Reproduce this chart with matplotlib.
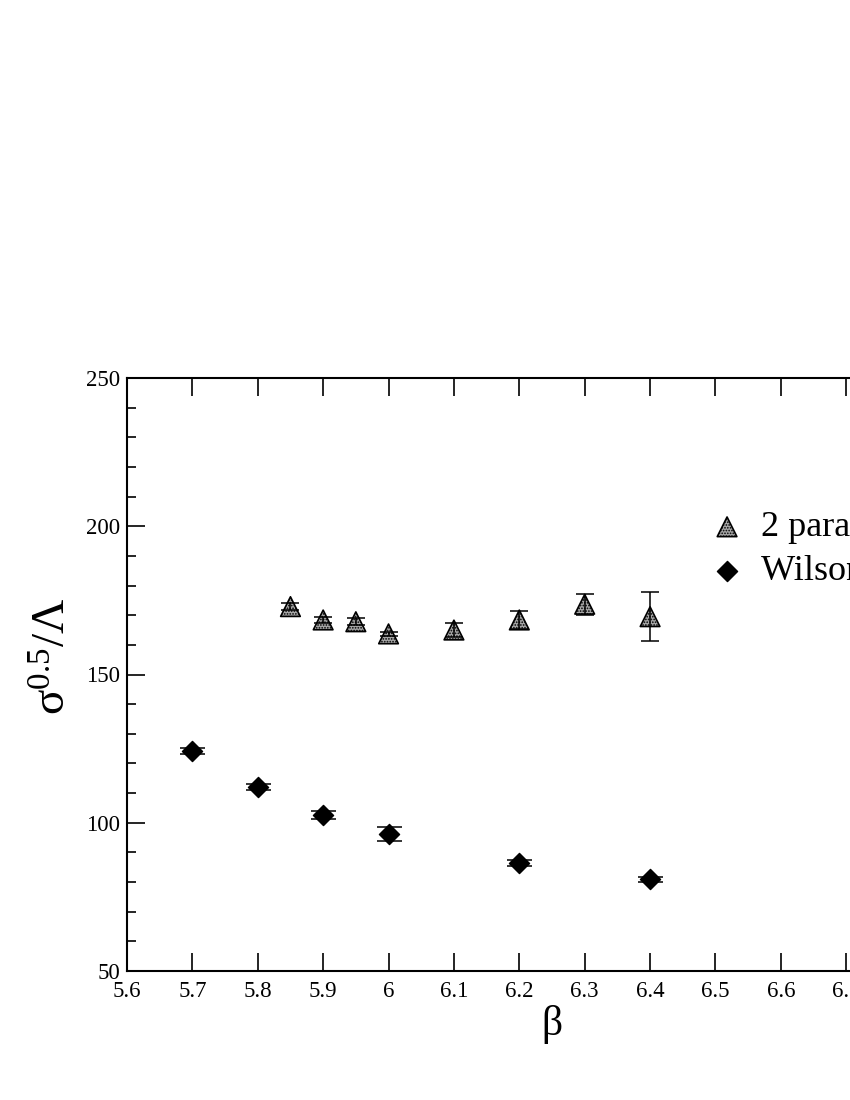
import numpy as np
import matplotlib.pyplot as plt
from matplotlib.ticker import MultipleLocator

plt.rcParams['font.family'] = ['Liberation Serif', 'DejaVu Serif']
plt.rcParams['mathtext.fontset'] = 'custom'
plt.rcParams['mathtext.rm'] = 'Liberation Serif'
plt.rcParams['mathtext.it'] = 'Liberation Serif:italic'
plt.rcParams['hatch.linewidth'] = 0.8

# data
beta_fit = [5.85, 5.9, 5.95, 6.0, 6.1, 6.2, 6.3, 6.4]
val_fit = [172.9, 168.4, 167.8, 163.7, 165.0, 168.4, 173.7, 169.5]
err_fit = [1.2, 1.1, 1.2, 0.8, 2.4, 3.0, 3.5, 8.3]

beta_wil = [5.7, 5.8, 5.9, 6.0, 6.2, 6.4]
val_wil = [124.3, 112.2, 102.6, 96.2, 86.3, 80.9]
err_wil = [1.0, 1.0, 1.4, 2.4, 1.0, 0.8]

labels = ['2 parameter fit', 'Wilson loops']
xticks = [5.6, 5.7, 5.8, 5.9, 6.0, 6.1, 6.2, 6.3, 6.4, 6.5, 6.6, 6.7, 6.8]
xticklabels = ['5.6', '5.7', '5.8', '5.9', '6', '6.1', '6.2', '6.3',
               '6.4', '6.5', '6.6', '6.7', '6.8']

fig = plt.figure(figsize=(8.5, 11), dpi=100)
# axes run past the right edge, like in the original
ax = fig.add_axes([127/850, 1 - 971/1100, 850/850, (971-378)/1100])

ax.errorbar(beta_fit, val_fit, yerr=err_fit, fmt='none', ecolor='black',
            elinewidth=1.1, capsize=6.3, capthick=1.1, zorder=4)
ax.scatter(beta_fit, val_fit, marker='^', s=200, facecolor='#a6a6a6',
           edgecolor='black', linewidth=1.2, hatch='......', zorder=3,
           label=labels[0])

ax.errorbar(beta_wil, val_wil, yerr=err_wil, fmt='none', ecolor='black',
            elinewidth=1.1, capsize=9, capthick=1.1, zorder=4)
ax.scatter(beta_wil, val_wil, marker='D', s=105, color='black', zorder=3,
           label=labels[1])

ax.set_xlim(5.6, 6.9)
ax.set_ylim(50, 250)
ax.set_xticks(xticks)
ax.set_xticklabels(xticklabels)
ax.yaxis.set_major_locator(MultipleLocator(50))
ax.yaxis.set_minor_locator(MultipleLocator(10))
ax.tick_params(which='both', direction='in', top=True, right=True,
               labelsize=16.5, width=1.2)
ax.tick_params(axis='x', pad=7)
ax.tick_params(axis='y', pad=5)
ax.tick_params(which='major', length=13)
ax.tick_params(which='minor', length=6.5)
for s in ax.spines.values():
    s.set_linewidth(1.5)

ax.set_xlabel('β', fontsize=30, labelpad=2)
ax.set_ylabel(r'$\mathrm{σ}^{0.5}/\mathrm{Λ}$', fontsize=34, labelpad=4)
ax.yaxis.set_label_coords(-0.06, 0.53)

ax.legend(loc='upper left', bbox_to_anchor=(709/850, 1 - 511/1100),
          bbox_transform=fig.transFigure, frameon=False, fontsize=26,
          handlelength=1.0, handletextpad=0.45, labelspacing=0.3,
          borderpad=0, borderaxespad=0, scatterpoints=1)

fig.savefig('out.png', dpi=100)
